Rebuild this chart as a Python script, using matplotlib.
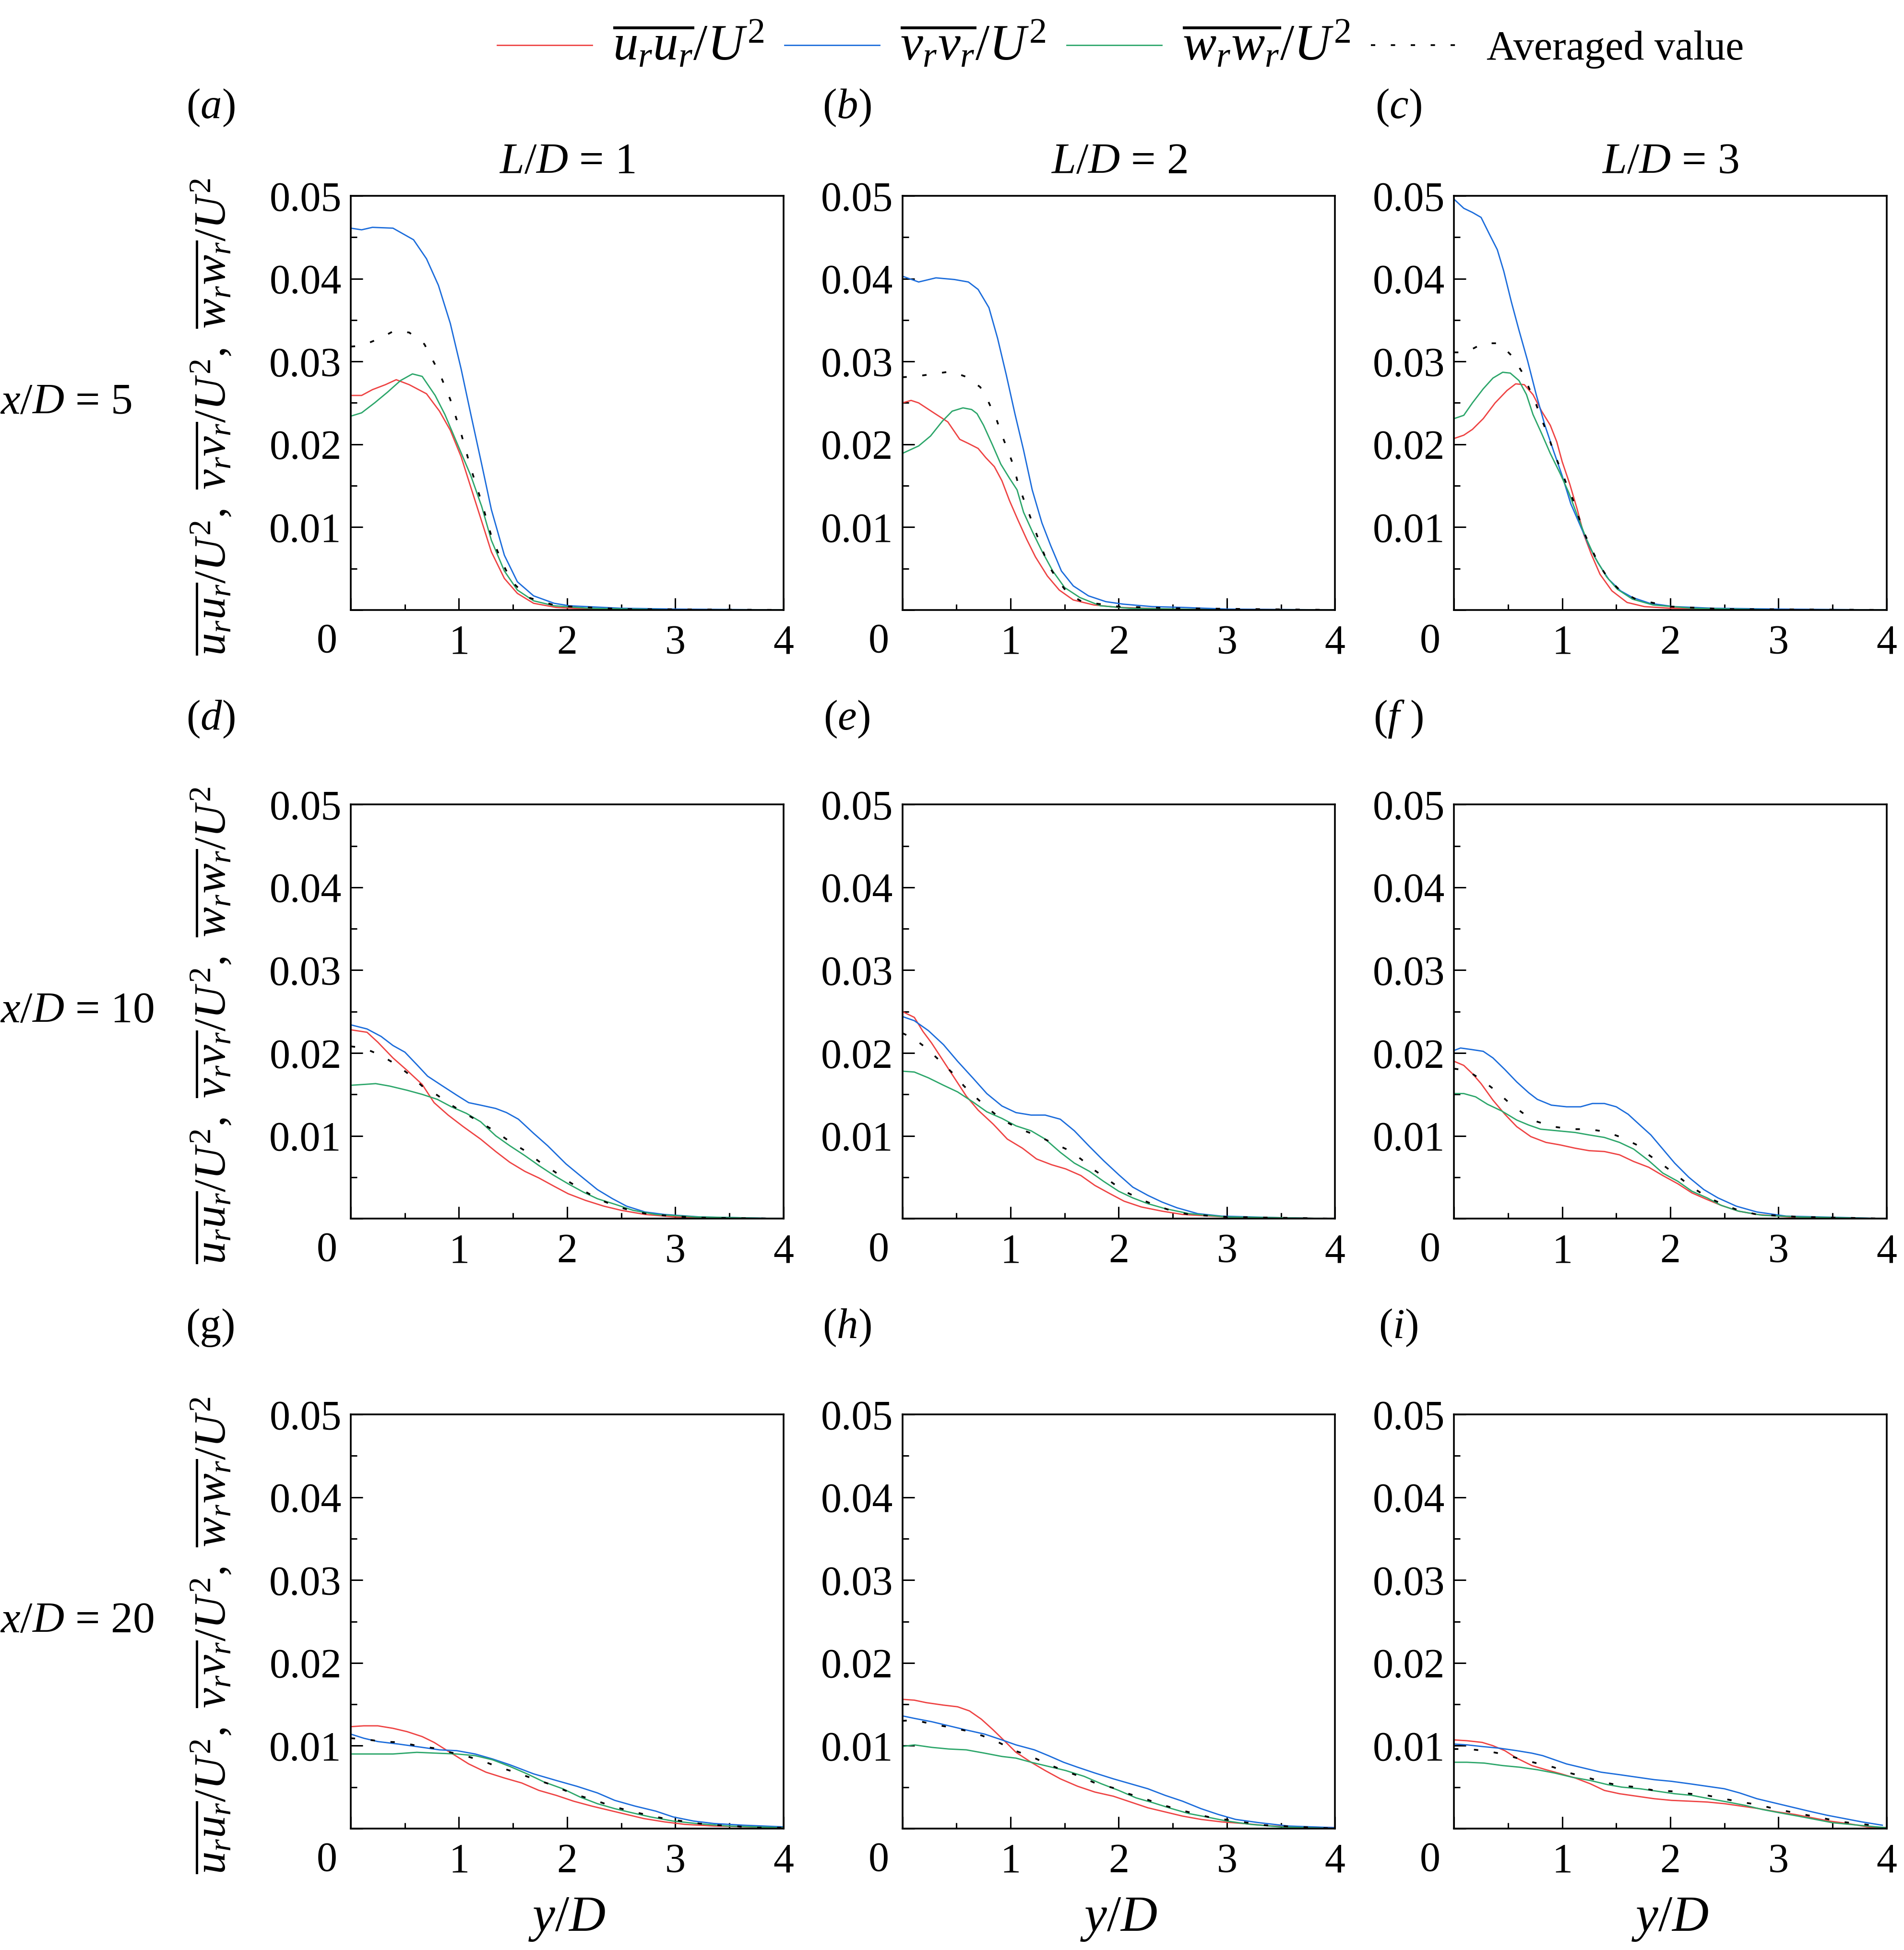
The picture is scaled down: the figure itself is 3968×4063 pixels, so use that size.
import matplotlib
matplotlib.use("Agg")
import matplotlib.pyplot as plt
from matplotlib.ticker import MultipleLocator, FixedLocator, FixedFormatter
from matplotlib.lines import Line2D

# ---------------- data ----------------
# panel (a)  x/D=5, L/D=1
a_u_x = [0, 0.1, 0.2, 0.32, 0.42, 0.54, 0.70, 0.82, 0.92, 1.02, 1.11, 1.21, 1.30, 1.42, 1.54, 1.69, 1.9, 2.2, 3.0, 4.0]
a_u_y = [0.0259, 0.0259, 0.0266, 0.0272, 0.0278, 0.0272, 0.0261, 0.0240, 0.0217, 0.0185, 0.0148, 0.0107, 0.0070, 0.0038, 0.0020, 0.0008, 0.0003, 0.0001, 0.0, 0.0]
a_v_x = [0, 0.1, 0.2, 0.39, 0.58, 0.70, 0.81, 0.92, 1.02, 1.11, 1.21, 1.30, 1.42, 1.54, 1.69, 1.88, 2.02, 2.5, 3.0, 4.0]
a_v_y = [0.0461, 0.0459, 0.0462, 0.0461, 0.0447, 0.0424, 0.0392, 0.0346, 0.0291, 0.0236, 0.0176, 0.0121, 0.0066, 0.0034, 0.0017, 0.0008, 0.0005, 0.0002, 0.0001, 0.0]
a_w_x = [0, 0.1, 0.22, 0.34, 0.46, 0.57, 0.66, 0.78, 0.87, 0.99, 1.11, 1.21, 1.30, 1.42, 1.54, 1.69, 1.88, 2.2, 3.0, 4.0]
a_w_y = [0.0234, 0.0238, 0.0250, 0.0263, 0.0277, 0.0285, 0.0282, 0.0259, 0.0236, 0.0199, 0.0162, 0.0125, 0.0084, 0.0047, 0.0024, 0.0011, 0.0005, 0.0002, 0.0, 0.0]
a_m_x = [0, 0.1, 0.27, 0.40, 0.54, 0.68, 0.82, 0.92, 1.02, 1.11, 1.21, 1.30, 1.40, 1.49, 1.64, 1.9, 2.5, 4.0]
a_m_y = [0.0318, 0.0319, 0.0328, 0.0337, 0.0335, 0.0321, 0.0286, 0.0254, 0.0213, 0.0171, 0.0130, 0.0089, 0.0057, 0.0034, 0.0015, 0.0005, 0.0001, 0.0]

# panel (b)  x/D=5, L/D=2
b_u_x = [0, 0.08, 0.15, 0.29, 0.42, 0.53, 0.61, 0.70, 0.77, 0.85, 0.92, 0.99, 1.07, 1.15, 1.23, 1.34, 1.45, 1.58, 1.77, 2.0, 2.5, 4.0]
b_u_y = [0.0250, 0.0253, 0.0250, 0.0238, 0.0227, 0.0206, 0.0201, 0.0195, 0.0184, 0.0173, 0.0156, 0.0132, 0.0108, 0.0085, 0.0064, 0.0041, 0.0024, 0.0012, 0.0006, 0.0003, 0.0001, 0.0]
b_v_x = [0, 0.15, 0.31, 0.48, 0.61, 0.70, 0.80, 0.88, 0.96, 1.04, 1.12, 1.20, 1.29, 1.37, 1.47, 1.58, 1.72, 1.88, 2.04, 2.31, 2.6, 3.0, 4.0]
b_v_y = [0.0403, 0.0396, 0.0401, 0.0399, 0.0396, 0.0387, 0.0365, 0.0328, 0.0284, 0.0237, 0.0193, 0.0145, 0.0105, 0.0078, 0.0047, 0.0029, 0.0017, 0.0010, 0.0007, 0.0004, 0.0003, 0.0001, 0.0]
b_w_x = [0, 0.15, 0.26, 0.37, 0.46, 0.56, 0.64, 0.69, 0.75, 0.83, 0.91, 0.99, 1.06, 1.12, 1.20, 1.29, 1.39, 1.50, 1.64, 1.83, 2.1, 3.0, 4.0]
b_w_y = [0.0189, 0.0198, 0.0210, 0.0228, 0.0240, 0.0244, 0.0242, 0.0237, 0.0223, 0.0200, 0.0176, 0.0159, 0.0145, 0.0118, 0.0095, 0.0071, 0.0047, 0.0027, 0.0015, 0.0005, 0.0002, 0.0, 0.0]
b_m_x = [0, 0.12, 0.29, 0.45, 0.60, 0.72, 0.80, 0.87, 0.92, 0.98, 1.03, 1.07, 1.12, 1.18, 1.23, 1.29, 1.35, 1.43, 1.53, 1.66, 2.0, 2.5, 4.0]
b_m_y = [0.0281, 0.0282, 0.0285, 0.0288, 0.0281, 0.0269, 0.0250, 0.0230, 0.0211, 0.0191, 0.0173, 0.0152, 0.0134, 0.0113, 0.0095, 0.0074, 0.0054, 0.0037, 0.0020, 0.0010, 0.0004, 0.0002, 0.0]

# panel (c)  x/D=5, L/D=3
c_u_x = [0, 0.09, 0.17, 0.27, 0.38, 0.49, 0.57, 0.65, 0.73, 0.81, 0.89, 0.95, 1.00, 1.07, 1.14, 1.20, 1.27, 1.35, 1.46, 1.60, 1.76, 2.0, 3.0, 4.0]
c_u_y = [0.0207, 0.0211, 0.0218, 0.0231, 0.0250, 0.0265, 0.0273, 0.0272, 0.0260, 0.0240, 0.0223, 0.0203, 0.0179, 0.0152, 0.0121, 0.0091, 0.0067, 0.0043, 0.0023, 0.0009, 0.0004, 0.0002, 0.0, 0.0]
c_v_x = [0, 0.09, 0.17, 0.25, 0.33, 0.40, 0.46, 0.53, 0.60, 0.68, 0.76, 0.84, 0.92, 1.00, 1.08, 1.16, 1.25, 1.33, 1.43, 1.54, 1.65, 1.81, 2.03, 2.40, 3.0, 4.0]
c_v_y = [0.0496, 0.0485, 0.0480, 0.0474, 0.0453, 0.0435, 0.0409, 0.0372, 0.0338, 0.0301, 0.0260, 0.0223, 0.0192, 0.0162, 0.0128, 0.0104, 0.0077, 0.0057, 0.0037, 0.0023, 0.0015, 0.0008, 0.0004, 0.0002, 0.0001, 0.0]
c_w_x = [0, 0.09, 0.17, 0.27, 0.36, 0.45, 0.52, 0.60, 0.67, 0.73, 0.81, 0.89, 0.98, 1.06, 1.14, 1.22, 1.30, 1.41, 1.51, 1.65, 1.84, 2.2, 3.0, 4.0]
c_w_y = [0.0231, 0.0235, 0.0250, 0.0267, 0.0280, 0.0287, 0.0286, 0.0277, 0.0260, 0.0236, 0.0213, 0.0189, 0.0165, 0.0142, 0.0114, 0.0087, 0.0064, 0.0040, 0.0025, 0.0013, 0.0006, 0.0002, 0.0, 0.0]
c_m_x = [0, 0.11, 0.27, 0.42, 0.54, 0.63, 0.69, 0.76, 0.81, 0.87, 0.92, 0.98, 1.04, 1.10, 1.15, 1.20, 1.27, 1.34, 1.43, 1.54, 1.68, 2.0, 2.5, 4.0]
c_m_y = [0.0311, 0.0311, 0.0322, 0.0322, 0.0306, 0.0287, 0.0269, 0.0248, 0.0230, 0.0211, 0.0191, 0.0172, 0.0152, 0.0133, 0.0113, 0.0094, 0.0074, 0.0055, 0.0037, 0.0023, 0.0013, 0.0004, 0.0001, 0.0]

# panel (d)  x/D=10, L/D=1
d_u_x = [0, 0.15, 0.25, 0.39, 0.52, 0.66, 0.77, 0.90, 1.04, 1.20, 1.34, 1.47, 1.61, 1.74, 1.88, 2.01, 2.17, 2.34, 2.50, 2.72, 3.0, 3.5, 4.0]
d_u_y = [0.0228, 0.0225, 0.0213, 0.0194, 0.0179, 0.0162, 0.0140, 0.0125, 0.0111, 0.0096, 0.0081, 0.0068, 0.0057, 0.0049, 0.0039, 0.0030, 0.0022, 0.0015, 0.0010, 0.0005, 0.0002, 0.0, 0.0]
d_v_x = [0, 0.15, 0.28, 0.39, 0.50, 0.61, 0.71, 0.85, 0.98, 1.09, 1.20, 1.34, 1.44, 1.55, 1.69, 1.82, 1.99, 2.12, 2.28, 2.42, 2.55, 2.72, 2.90, 3.23, 4.0]
d_v_y = [0.0234, 0.0229, 0.0220, 0.0209, 0.0201, 0.0186, 0.0172, 0.0160, 0.0149, 0.0140, 0.0137, 0.0133, 0.0128, 0.0120, 0.0103, 0.0088, 0.0066, 0.0052, 0.0035, 0.0024, 0.0015, 0.0008, 0.0005, 0.0002, 0.0]
d_w_x = [0, 0.12, 0.23, 0.36, 0.52, 0.66, 0.80, 0.93, 1.07, 1.20, 1.34, 1.47, 1.61, 1.74, 1.88, 2.01, 2.15, 2.28, 2.45, 2.61, 2.82, 3.2, 4.0]
d_w_y = [0.0161, 0.0162, 0.0163, 0.0160, 0.0155, 0.0150, 0.0144, 0.0135, 0.0127, 0.0117, 0.0100, 0.0088, 0.0076, 0.0064, 0.0052, 0.0042, 0.0032, 0.0024, 0.0017, 0.0010, 0.0005, 0.0002, 0.0]
d_m_x = [0, 0.12, 0.28, 0.42, 0.54, 0.66, 0.80, 0.93, 1.07, 1.20, 1.34, 1.47, 1.61, 1.74, 1.88, 2.01, 2.15, 2.28, 2.45, 2.61, 2.77, 3.2, 4.0]
d_m_y = [0.0208, 0.0206, 0.0197, 0.0186, 0.0174, 0.0160, 0.0149, 0.0137, 0.0126, 0.0116, 0.0105, 0.0093, 0.0082, 0.0069, 0.0057, 0.0045, 0.0034, 0.0024, 0.0015, 0.0009, 0.0005, 0.0001, 0.0]

# panel (e)  x/D=10, L/D=2
e_u_x = [0, 0.11, 0.19, 0.27, 0.38, 0.48, 0.59, 0.70, 0.84, 0.97, 1.11, 1.24, 1.38, 1.51, 1.65, 1.78, 1.92, 2.05, 2.21, 2.40, 2.59, 3.0, 4.0]
e_u_y = [0.0250, 0.0243, 0.0226, 0.0212, 0.0190, 0.0170, 0.0148, 0.0131, 0.0114, 0.0096, 0.0085, 0.0072, 0.0065, 0.0060, 0.0052, 0.0040, 0.0030, 0.0021, 0.0014, 0.0009, 0.0005, 0.0002, 0.0]
e_v_x = [0, 0.11, 0.24, 0.38, 0.51, 0.65, 0.78, 0.92, 1.05, 1.19, 1.32, 1.46, 1.59, 1.73, 1.86, 2.00, 2.13, 2.27, 2.40, 2.54, 2.73, 2.95, 3.5, 4.0]
e_v_y = [0.0244, 0.0239, 0.0227, 0.0210, 0.0190, 0.0170, 0.0151, 0.0136, 0.0128, 0.0125, 0.0125, 0.0120, 0.0106, 0.0087, 0.0070, 0.0053, 0.0038, 0.0028, 0.0020, 0.0013, 0.0006, 0.0003, 0.0001, 0.0]
e_w_x = [0, 0.11, 0.24, 0.38, 0.51, 0.65, 0.78, 0.92, 1.05, 1.19, 1.32, 1.46, 1.59, 1.73, 1.86, 2.00, 2.13, 2.27, 2.43, 2.65, 3.0, 4.0]
e_w_y = [0.0178, 0.0177, 0.0170, 0.0161, 0.0153, 0.0141, 0.0129, 0.0121, 0.0112, 0.0106, 0.0096, 0.0080, 0.0067, 0.0057, 0.0045, 0.0033, 0.0025, 0.0018, 0.0012, 0.0006, 0.0002, 0.0]
e_m_x = [0, 0.11, 0.23, 0.35, 0.47, 0.57, 0.69, 0.81, 0.94, 1.09, 1.23, 1.38, 1.53, 1.65, 1.77, 1.90, 2.04, 2.19, 2.34, 2.50, 2.65, 3.0, 4.0]
e_m_y = [0.0224, 0.0217, 0.0205, 0.0190, 0.0175, 0.0160, 0.0145, 0.0131, 0.0118, 0.0108, 0.0101, 0.0092, 0.0083, 0.0072, 0.0059, 0.0047, 0.0034, 0.0024, 0.0016, 0.0009, 0.0005, 0.0002, 0.0]

# panel (f)  x/D=10, L/D=3
f_u_x = [0, 0.09, 0.17, 0.25, 0.36, 0.47, 0.58, 0.71, 0.85, 0.98, 1.12, 1.25, 1.39, 1.53, 1.66, 1.80, 1.93, 2.07, 2.20, 2.34, 2.47, 2.63, 2.80, 3.1, 4.0]
f_u_y = [0.0190, 0.0185, 0.0175, 0.0163, 0.0143, 0.0126, 0.0111, 0.0099, 0.0092, 0.0089, 0.0085, 0.0082, 0.0081, 0.0077, 0.0069, 0.0062, 0.0052, 0.0042, 0.0031, 0.0023, 0.0016, 0.0009, 0.0005, 0.0002, 0.0]
f_v_x = [0, 0.06, 0.17, 0.27, 0.36, 0.47, 0.58, 0.69, 0.77, 0.90, 1.04, 1.17, 1.28, 1.39, 1.50, 1.61, 1.71, 1.82, 1.93, 2.04, 2.17, 2.31, 2.44, 2.61, 2.80, 3.07, 3.69, 4.0]
f_v_y = [0.0203, 0.0206, 0.0204, 0.0202, 0.0194, 0.0180, 0.0165, 0.0152, 0.0144, 0.0137, 0.0135, 0.0135, 0.0139, 0.0139, 0.0135, 0.0126, 0.0114, 0.0101, 0.0084, 0.0067, 0.0050, 0.0035, 0.0025, 0.0015, 0.0008, 0.0003, 0.0001, 0.0]
f_w_x = [0, 0.09, 0.20, 0.31, 0.44, 0.58, 0.69, 0.80, 0.96, 1.12, 1.25, 1.39, 1.53, 1.66, 1.80, 1.93, 2.07, 2.20, 2.34, 2.47, 2.63, 2.85, 3.2, 4.0]
f_w_y = [0.0151, 0.0151, 0.0147, 0.0138, 0.0130, 0.0119, 0.0113, 0.0108, 0.0106, 0.0104, 0.0101, 0.0098, 0.0092, 0.0084, 0.0070, 0.0055, 0.0045, 0.0033, 0.0025, 0.0016, 0.0009, 0.0004, 0.0002, 0.0]
f_m_x = [0, 0.12, 0.25, 0.38, 0.50, 0.63, 0.77, 0.92, 1.08, 1.24, 1.40, 1.55, 1.69, 1.81, 1.94, 2.07, 2.20, 2.34, 2.49, 2.63, 2.80, 3.2, 4.0]
f_m_y = [0.0181, 0.0179, 0.0168, 0.0155, 0.0141, 0.0128, 0.0117, 0.0111, 0.0108, 0.0108, 0.0105, 0.0098, 0.0089, 0.0076, 0.0064, 0.0051, 0.0038, 0.0026, 0.0017, 0.0010, 0.0005, 0.0002, 0.0]

# panel (g)  x/D=20, L/D=1
g_u_x = [0, 0.12, 0.25, 0.39, 0.52, 0.66, 0.77, 0.88, 0.98, 1.09, 1.25, 1.42, 1.58, 1.74, 1.90, 2.06, 2.23, 2.39, 2.55, 2.71, 2.90, 3.09, 3.36, 4.0]
g_u_y = [0.0123, 0.0124, 0.0124, 0.0121, 0.0117, 0.0111, 0.0104, 0.0095, 0.0087, 0.0078, 0.0068, 0.0061, 0.0055, 0.0046, 0.0040, 0.0033, 0.0027, 0.0022, 0.0017, 0.0012, 0.0008, 0.0005, 0.0003, 0.0001]
g_v_x = [0, 0.12, 0.25, 0.44, 0.66, 0.82, 0.98, 1.15, 1.31, 1.47, 1.69, 1.90, 2.09, 2.28, 2.44, 2.63, 2.82, 2.98, 3.17, 3.36, 3.63, 4.0]
g_v_y = [0.0114, 0.0109, 0.0105, 0.0102, 0.0098, 0.0095, 0.0094, 0.0090, 0.0084, 0.0077, 0.0066, 0.0058, 0.0051, 0.0043, 0.0034, 0.0027, 0.0021, 0.0014, 0.0009, 0.0006, 0.0004, 0.0002]
g_w_x = [0, 0.20, 0.39, 0.61, 0.79, 0.98, 1.15, 1.31, 1.47, 1.63, 1.79, 1.96, 2.12, 2.28, 2.44, 2.60, 2.77, 2.98, 3.20, 3.49, 4.0]
g_w_y = [0.0090, 0.0090, 0.0090, 0.0092, 0.0091, 0.0090, 0.0088, 0.0083, 0.0075, 0.0066, 0.0056, 0.0048, 0.0038, 0.0030, 0.0024, 0.0019, 0.0014, 0.0009, 0.0006, 0.0003, 0.0001]
g_m_x = [0, 0.12, 0.29, 0.46, 0.61, 0.77, 0.92, 1.08, 1.23, 1.37, 1.52, 1.69, 1.83, 1.98, 2.13, 2.28, 2.44, 2.59, 2.75, 2.90, 3.06, 3.22, 3.39, 3.55, 3.71, 4.0]
g_m_y = [0.0109, 0.0108, 0.0105, 0.0104, 0.0100, 0.0097, 0.0092, 0.0087, 0.0081, 0.0074, 0.0068, 0.0060, 0.0054, 0.0046, 0.0039, 0.0033, 0.0026, 0.0021, 0.0016, 0.0012, 0.0009, 0.0006, 0.0004, 0.0003, 0.0001, 0.0001]

# panel (h)  x/D=20, L/D=2
h_u_x = [0, 0.11, 0.22, 0.38, 0.51, 0.62, 0.73, 0.84, 0.95, 1.05, 1.19, 1.32, 1.46, 1.62, 1.78, 1.95, 2.11, 2.27, 2.43, 2.59, 2.76, 2.95, 3.16, 3.41, 4.0]
h_u_y = [0.0156, 0.0155, 0.0152, 0.0149, 0.0147, 0.0142, 0.0132, 0.0119, 0.0105, 0.0092, 0.0080, 0.0070, 0.0060, 0.0051, 0.0044, 0.0039, 0.0032, 0.0025, 0.0020, 0.0015, 0.0011, 0.0008, 0.0006, 0.0003, 0.0001]
h_v_x = [0, 0.11, 0.27, 0.43, 0.59, 0.76, 0.92, 1.05, 1.22, 1.35, 1.49, 1.62, 1.78, 1.95, 2.11, 2.27, 2.43, 2.59, 2.76, 2.92, 3.08, 3.30, 3.57, 4.0]
h_v_y = [0.0136, 0.0133, 0.0129, 0.0124, 0.0119, 0.0114, 0.0107, 0.0101, 0.0095, 0.0088, 0.0080, 0.0074, 0.0067, 0.0060, 0.0054, 0.0048, 0.0040, 0.0033, 0.0024, 0.0017, 0.0011, 0.0007, 0.0003, 0.0001]
h_w_x = [0, 0.11, 0.27, 0.43, 0.59, 0.76, 0.92, 1.05, 1.19, 1.35, 1.51, 1.68, 1.84, 2.00, 2.16, 2.32, 2.49, 2.65, 2.81, 3.00, 3.22, 3.49, 4.0]
h_w_y = [0.0099, 0.0101, 0.0098, 0.0096, 0.0095, 0.0091, 0.0087, 0.0085, 0.0080, 0.0075, 0.0070, 0.0063, 0.0054, 0.0046, 0.0037, 0.0031, 0.0024, 0.0018, 0.0014, 0.0009, 0.0005, 0.0002, 0.0]
h_m_x = [0, 0.11, 0.28, 0.45, 0.59, 0.74, 0.89, 1.04, 1.19, 1.34, 1.49, 1.64, 1.78, 1.95, 2.09, 2.24, 2.39, 2.55, 2.70, 2.86, 3.03, 3.19, 3.35, 3.65, 4.0]
h_m_y = [0.0130, 0.0131, 0.0126, 0.0122, 0.0118, 0.0112, 0.0104, 0.0094, 0.0087, 0.0078, 0.0070, 0.0063, 0.0055, 0.0049, 0.0042, 0.0036, 0.0029, 0.0023, 0.0018, 0.0013, 0.0010, 0.0007, 0.0004, 0.0002, 0.0]

# panel (i)  x/D=20, L/D=3
i_u_x = [0, 0.12, 0.26, 0.36, 0.47, 0.58, 0.72, 0.85, 0.99, 1.12, 1.26, 1.39, 1.53, 1.69, 1.85, 2.01, 2.18, 2.34, 2.50, 2.66, 2.82, 2.99, 3.15, 3.31, 3.47, 3.64, 3.82, 4.0]
i_u_y = [0.0107, 0.0106, 0.0104, 0.0100, 0.0094, 0.0085, 0.0076, 0.0071, 0.0066, 0.0061, 0.0054, 0.0046, 0.0042, 0.0039, 0.0036, 0.0034, 0.0033, 0.0032, 0.0030, 0.0027, 0.0024, 0.0020, 0.0017, 0.0013, 0.0009, 0.0006, 0.0002, 0.0001]
i_v_x = [0, 0.12, 0.26, 0.42, 0.58, 0.72, 0.82, 0.93, 1.04, 1.20, 1.36, 1.53, 1.69, 1.85, 2.01, 2.18, 2.34, 2.50, 2.64, 2.80, 2.96, 3.12, 3.28, 3.45, 3.61, 3.77, 3.96]
i_v_y = [0.0102, 0.0101, 0.0099, 0.0097, 0.0094, 0.0091, 0.0088, 0.0083, 0.0078, 0.0073, 0.0068, 0.0065, 0.0062, 0.0059, 0.0057, 0.0054, 0.0051, 0.0048, 0.0043, 0.0036, 0.0031, 0.0026, 0.0021, 0.0016, 0.0012, 0.0008, 0.0004]
i_w_x = [0, 0.12, 0.28, 0.45, 0.61, 0.77, 0.93, 1.09, 1.26, 1.42, 1.55, 1.72, 1.88, 2.04, 2.20, 2.36, 2.53, 2.69, 2.85, 3.01, 3.18, 3.34, 3.50, 3.66, 3.82, 4.0]
i_w_y = [0.0080, 0.0080, 0.0079, 0.0076, 0.0074, 0.0071, 0.0067, 0.0062, 0.0058, 0.0053, 0.0050, 0.0048, 0.0045, 0.0042, 0.0040, 0.0036, 0.0032, 0.0028, 0.0023, 0.0019, 0.0015, 0.0011, 0.0007, 0.0005, 0.0003, 0.0001]
i_m_x = [0, 0.12, 0.28, 0.45, 0.61, 0.76, 0.92, 1.07, 1.22, 1.38, 1.53, 1.69, 1.85, 2.01, 2.18, 2.34, 2.49, 2.65, 2.80, 2.96, 3.11, 3.27, 3.43, 3.58, 3.74, 3.91]
i_m_y = [0.0096, 0.0096, 0.0094, 0.0090, 0.0084, 0.0079, 0.0074, 0.0067, 0.0062, 0.0056, 0.0052, 0.0050, 0.0046, 0.0045, 0.0042, 0.0040, 0.0036, 0.0032, 0.0029, 0.0024, 0.0020, 0.0016, 0.0012, 0.0008, 0.0006, 0.0003]

panel_tags = [r"($\mathit{a}$)", r"($\mathit{b}$)", r"($\mathit{c}$)",
              r"($\mathit{d}$)", r"($\mathit{e}$)", r"($\mathit{f}$ )",
              r"(g)", r"($\mathit{h}$)", r"($\mathit{i}$)"]
col_titles = [r"$L/D$ = 1", r"$L/D$ = 2", r"$L/D$ = 3"]
row_titles = [r"$x/D$ = 5", r"$x/D$ = 10", r"$x/D$ = 20"]
x_ticks = [0, 1, 2, 3, 4]
y_ticks = [0.0, 0.01, 0.02, 0.03, 0.04, 0.05]
y_tick_labels = ["", "0.01", "0.02", "0.03", "0.04", "0.05"]
series_labels = [r"$\overline{u_r u_r}/U^2$", r"$\overline{v_r v_r}/U^2$",
                 r"$\overline{w_r w_r}/U^2$", "Averaged value"]
ylabel_text = (r"$\overline{u_r u_r}/U^2,\ \overline{v_r v_r}/U^2,\ "
               r"\overline{w_r w_r}/U^2$")
xlabel_text = r"$y/D$"

panels = [
    (a_u_x, a_u_y, a_v_x, a_v_y, a_w_x, a_w_y, a_m_x, a_m_y),
    (b_u_x, b_u_y, b_v_x, b_v_y, b_w_x, b_w_y, b_m_x, b_m_y),
    (c_u_x, c_u_y, c_v_x, c_v_y, c_w_x, c_w_y, c_m_x, c_m_y),
    (d_u_x, d_u_y, d_v_x, d_v_y, d_w_x, d_w_y, d_m_x, d_m_y),
    (e_u_x, e_u_y, e_v_x, e_v_y, e_w_x, e_w_y, e_m_x, e_m_y),
    (f_u_x, f_u_y, f_v_x, f_v_y, f_w_x, f_w_y, f_m_x, f_m_y),
    (g_u_x, g_u_y, g_v_x, g_v_y, g_w_x, g_w_y, g_m_x, g_m_y),
    (h_u_x, h_u_y, h_v_x, h_v_y, h_w_x, h_w_y, h_m_x, h_m_y),
    (i_u_x, i_u_y, i_v_x, i_v_y, i_w_x, i_w_y, i_m_x, i_m_y),
]

# ---------------- style ----------------
plt.rcParams['font.family'] = ['Liberation Serif', 'DejaVu Serif']
plt.rcParams['mathtext.fontset'] = 'custom'
plt.rcParams['mathtext.rm'] = 'Liberation Serif'
plt.rcParams['mathtext.it'] = 'Liberation Serif:italic'
plt.rcParams['mathtext.bf'] = 'Liberation Serif:bold'

FS = 31
RED = '#EE4343'
BLUE = '#1B6CDB'
GREEN = '#2CA66A'
LW = 1.0
DOT = (0, (2.5, 9))

W, H = 3968, 4063
DPI = 200
fig = plt.figure(figsize=(W / DPI, H / DPI), dpi=DPI)

# layout reference grid (display units of a 1536 x 1573 canvas)
CW, CH = 1536.0, 1573.0
col_left = [283 / CW, 728 / CW, 1173 / CW]
ax_w = 349 / CW
row_bottom = [1 - 492 / CH, 1 - 983 / CH, 1 - 1475 / CH]
ax_h = 334 / CH
tag_x = [170 / CW, 683 / CW, 1128 / CW]
tag_y = [1 - 87 / CH, 1 - 580 / CH, 1 - 1071 / CH]
row_title_y = [1 - 325 / CH, 1 - 816 / CH, 1 - 1308 / CH]

for r in range(3):
    for c in range(3):
        k = r * 3 + c
        ax = fig.add_axes([col_left[c], row_bottom[r], ax_w, ax_h])
        ux, uy, vx, vy, wx, wy, mx, my = panels[k]
        ax.plot(ux, uy, color=RED, lw=LW)
        ax.plot(vx, vy, color=BLUE, lw=LW)
        ax.plot(wx, wy, color=GREEN, lw=LW)
        ax.plot(mx, my, color='black', lw=1.3, linestyle=DOT)
        ax.set_xlim(0, 4)
        ax.set_ylim(0, 0.05)
        ax.xaxis.set_major_locator(FixedLocator(x_ticks))
        ax.xaxis.set_major_formatter(FixedFormatter([""] + [str(v) for v in x_ticks[1:]]))
        ax.xaxis.set_minor_locator(MultipleLocator(0.5))
        ax.yaxis.set_major_locator(FixedLocator(y_ticks))
        ax.yaxis.set_major_formatter(FixedFormatter(y_tick_labels))
        ax.yaxis.set_minor_locator(MultipleLocator(0.005))
        ax.tick_params(which='both', direction='in', width=1.1, labelsize=FS)
        ax.tick_params(which='major', length=9)
        ax.tick_params(which='minor', length=4.5)
        ax.tick_params(axis='x', which='major', pad=11)
        ax.tick_params(axis='y', which='major', pad=7)
        for s in ax.spines.values():
            s.set_linewidth(1.3)
        # shared origin label
        ax.text(-0.055, -0.078, "0", transform=ax.transAxes, fontsize=FS,
                ha='center', va='center')
        fig.text(tag_x[c], tag_y[r], panel_tags[k], fontsize=FS + 1,
                 ha='center', va='center')
        if r == 0:
            ax.text(0.5, 1.08, col_titles[c], transform=ax.transAxes,
                    fontsize=FS + 2, ha='center', va='center')
        if r == 2:
            ax.text(0.5, -0.22, xlabel_text, transform=ax.transAxes,
                    fontsize=FS + 7, ha='center', va='center')

for r in range(3):
    yc = row_bottom[r] + ax_h / 2
    fig.text(0.0, row_title_y[r], row_titles[r], fontsize=FS + 2,
             ha='left', va='center')
    fig.text(172 / CW, yc - 0.007, ylabel_text, fontsize=FS + 3,
             rotation=90, ha='center', va='center')

handles = [Line2D([], [], color=RED, lw=LW),
           Line2D([], [], color=BLUE, lw=LW),
           Line2D([], [], color=GREEN, lw=LW),
           Line2D([], [], color='black', lw=1.3, linestyle=DOT)]
leg = fig.legend(handles, series_labels, loc='center', ncol=4, frameon=False,
                 fontsize=FS, bbox_to_anchor=(0.5885, 1 - 37 / CH),
                 handlelength=2.3, handletextpad=0.5, columnspacing=0.5)
for t in leg.get_texts()[:3]:
    t.set_fontsize(FS + 7)

fig.savefig("out.png", dpi=DPI)
